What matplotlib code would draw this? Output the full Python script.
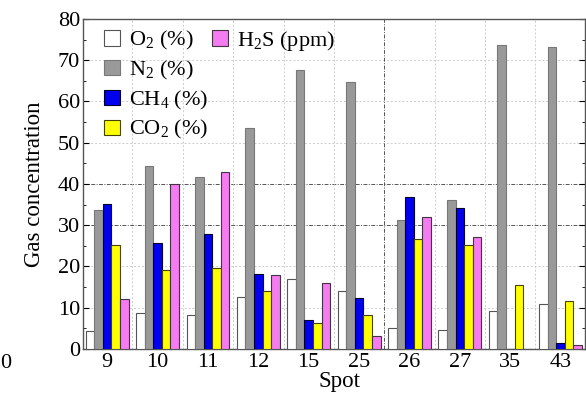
import numpy as np
import matplotlib
matplotlib.use("Agg")
import matplotlib.pyplot as plt
from matplotlib.patches import Patch

plt.rcParams['font.family'] = ['Liberation Serif', 'DejaVu Serif']
plt.rcParams['mathtext.fontset'] = 'custom'
plt.rcParams['mathtext.rm'] = 'Liberation Serif'
plt.rcParams['mathtext.it'] = 'Liberation Serif:italic'

spots = ['9', '10', '11', '12', '15', '25', '26', '27', '35', '43']
o2 = [4.3, 8.7, 8.2, 12.7, 17.0, 14.1, 5.2, 4.6, 9.1, 10.8]
n2 = [33.8, 44.3, 41.7, 53.6, 67.7, 64.6, 31.2, 36.0, 73.7, 73.2]
ch4 = [35.2, 25.6, 27.9, 18.2, 7.0, 12.4, 36.8, 34.1, 0.0, 1.4]
co2 = [25.1, 19.2, 19.7, 14.0, 6.3, 8.3, 26.7, 25.2, 15.5, 11.7]
h2s = [12.1, 40.1, 43.0, 18.0, 16.1, 3.2, 32.1, 27.1, 0.0, 1.0]

series = [o2, n2, ch4, co2, h2s]
labels = ['O$_\\mathrm{2}$ (%)', 'N$_\\mathrm{2}$ (%)', 'CH$_\\mathrm{4}$ (%)',
          'CO$_\\mathrm{2}$ (%)', 'H$_\\mathrm{2}$S (ppm)']
colors = ['white', '#999999', '#0000ee', '#ffff00', '#f57cf0']
edges = ['#555555', '#777777', '#000033', '#444400', '#443344']

fig = plt.figure(figsize=(5.86, 3.95), dpi=100)
ax = fig.add_axes([0.1416, 0.1165, 0.8564, 0.8355])

x = np.arange(len(spots))
w = 0.17
for i, (vals, c, e) in enumerate(zip(series, colors, edges)):
    ax.bar(x + (i - 2) * w, vals, w, color=c, edgecolor=e, linewidth=0.8, zorder=3)

ax.set_xlim(-0.48, 9.48)
ax.set_ylim(0, 80)
ax.set_yticks(np.arange(0, 81, 10))
ax.set_xticks(x)
ax.set_xticklabels(spots)
ax.tick_params(axis='both', labelsize=16, direction='in', right=True, length=4, pad=2)
ax.tick_params(axis='x', length=0, pad=3)
ax.set_yticks(np.arange(5, 80, 10), minor=True)
ax.tick_params(axis='y', which='minor', direction='in', right=True, length=2)

# grid: light dotted, with a few darker dash-dot lines as in the source
for yv in range(10, 80, 10):
    if yv in (30, 40):
        ax.axhline(yv, color='#555555', linestyle=(0, (4, 1.5, 1, 1.5)), linewidth=0.7, zorder=1)
    else:
        ax.axhline(yv, color='#cccccc', linestyle=(0, (2, 2)), linewidth=0.7, zorder=1)
for xv in np.arange(0.5, 9, 1.0):
    if xv == 5.5:
        ax.axvline(xv, color='#555555', linestyle=(0, (4, 1.5, 1, 1.5)), linewidth=0.7, zorder=1)
    else:
        ax.axvline(xv, color='#cccccc', linestyle=(0, (2, 2)), linewidth=0.7, zorder=1)

for s in ax.spines.values():
    s.set_color('#555555')
    s.set_linewidth(1.0)

ax.set_ylabel('Gas concentration', fontsize=16.5, labelpad=9)
ax.set_xlabel('Spot', fontsize=16.5, labelpad=0)
ax.xaxis.set_label_coords(0.512, -0.068)

handles = [Patch(facecolor=c, edgecolor=e, linewidth=0.8) for c, e in zip(colors, edges)]
blank = Patch(facecolor='none', edgecolor='none')
leg = ax.legend(handles[:4] + [handles[4], blank, blank, blank],
                labels[:4] + [labels[4], '', '', ''],
                ncol=2, loc='upper left', frameon=False, fontsize=16,
                handlelength=0.72, handleheight=0.68, handletextpad=0.4,
                columnspacing=0.15, labelspacing=0.3, borderaxespad=0.0,
                bbox_to_anchor=(0.025, 0.997))

fig.text(0.0, 0.08, '0', fontsize=16, ha='left', va='center')

fig.savefig('out.png', dpi=100)
